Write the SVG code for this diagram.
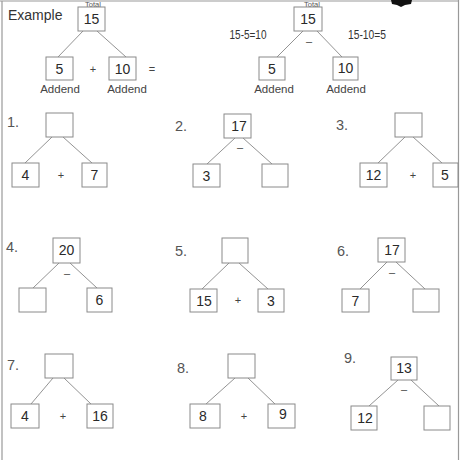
<svg xmlns="http://www.w3.org/2000/svg" width="460" height="460" viewBox="0 0 460 460">
<style>
.bg{fill:#fff}
.box{fill:#fff;stroke:#8a8a8a;stroke-width:1}
.num{font-family:"Liberation Sans",Arial,sans-serif;font-size:14px;fill:#2a2a2a;text-anchor:middle}
.lbl{font-family:"Liberation Sans",Arial,sans-serif;font-size:14.5px;fill:#555;text-anchor:start}
.sm{font-family:"Liberation Sans",Arial,sans-serif;font-size:11.5px;fill:#444;text-anchor:middle}
.tot{font-family:"Liberation Sans",Arial,sans-serif;font-size:7.5px;fill:#555;text-anchor:middle}
.op{font-family:"Liberation Sans",Arial,sans-serif;font-size:11px;fill:#444;text-anchor:middle}
.eq{font-family:"Liberation Sans",Arial,sans-serif;font-size:12.5px;fill:#333;text-anchor:middle}
.con line{stroke:#777;stroke-width:0.8}
.border{stroke:#999;stroke-width:1.2;fill:none}
</style>
<rect class="bg" x="0" y="0" width="460" height="460"/>
<g id="frame">
<line class="border" x1="2" y1="1" x2="2" y2="460"/>
<line class="border" x1="0" y1="1" x2="459" y2="1"/>
<line class="border" x1="458.5" y1="0" x2="458.5" y2="460"/>
<path d="M391 0 L412 0 L411 4 L405 5 L401 7 L397 5 L392 4 Z" fill="#111"/>
</g>

<g id="connectors" class="con">
<line x1="83" y1="31" x2="58" y2="57"/><line x1="97" y1="31" x2="126" y2="57"/>
<line x1="303" y1="31" x2="277" y2="57"/><line x1="317" y1="31" x2="342" y2="57"/>
<line x1="52" y1="137" x2="25" y2="163"/><line x1="63" y1="137" x2="92" y2="163"/>
<line x1="235" y1="138" x2="207" y2="164"/><line x1="243" y1="138" x2="272" y2="164"/>
<line x1="405" y1="137" x2="378" y2="163"/><line x1="413" y1="137" x2="442" y2="163"/>
<line x1="59" y1="263" x2="33" y2="288"/><line x1="70" y1="263" x2="97" y2="288"/>
<line x1="229" y1="263" x2="202" y2="289"/><line x1="239" y1="263" x2="268" y2="289"/>
<line x1="387" y1="262" x2="360" y2="289"/><line x1="396" y1="262" x2="425" y2="289"/>
<line x1="53" y1="378" x2="31" y2="404"/><line x1="64" y1="378" x2="91" y2="404"/>
<line x1="235" y1="378" x2="206" y2="404"/><line x1="248" y1="378" x2="275" y2="404"/>
<line x1="398" y1="380" x2="369" y2="406"/><line x1="411" y1="380" x2="439" y2="406"/>
</g>

<!-- Example left -->
<g id="ex-left">
<text class="lbl" x="8" y="20" style="fill:#333;font-size:14px">Example</text>
<text class="tot" x="93" y="6.5">Total</text>
<g id="ex1-total"><rect class="box" x="78" y="7" width="27" height="24"/><text class="num" x="91.5" y="24">15</text></g>
<g id="ex1-a"><rect class="box" x="46" y="57" width="27" height="23"/><text class="num" x="59.5" y="74">5</text></g>
<text class="op" x="93" y="73">+</text>
<g id="ex1-b"><rect class="box" x="109" y="57" width="27" height="23"/><text class="num" x="122.5" y="74">10</text></g>
<text class="op" x="152" y="73">=</text>
<text class="sm" x="60" y="93">Addend</text>
<text class="sm" x="127" y="93">Addend</text>
</g>

<!-- Example right -->
<g id="ex-right">
<text class="tot" x="312" y="6.5">Total</text>
<text class="eq" x="248" y="39" textLength="37" lengthAdjust="spacingAndGlyphs">15-5=10</text>
<text class="eq" x="367" y="39" textLength="38" lengthAdjust="spacingAndGlyphs">15-10=5</text>
<g id="ex2-total"><rect class="box" x="294" y="7" width="28" height="24"/><text class="num" x="308" y="24">15</text></g>
<text class="op" x="309" y="45">–</text>
<g id="ex2-a"><rect class="box" x="259" y="57" width="26" height="23"/><text class="num" x="272" y="74">5</text></g>
<g id="ex2-b"><rect class="box" x="333" y="57" width="25" height="23"/><text class="num" x="345.5" y="73">10</text></g>
<text class="sm" x="274" y="93">Addend</text>
<text class="sm" x="346" y="93">Addend</text>
</g>

<!-- 1 -->
<g id="p1">
<text class="lbl" x="7" y="127">1.</text>
<g id="p1-top"><rect class="box" x="46" y="113" width="27" height="24"/></g>
<g id="p1-a"><rect class="box" x="12" y="163" width="27" height="24"/><text class="num" x="25.5" y="180">4</text></g>
<text class="op" x="61" y="179">+</text>
<g id="p1-b"><rect class="box" x="82" y="163" width="25" height="24"/><text class="num" x="94.5" y="180">7</text></g>
</g>

<!-- 2 -->
<g id="p2">
<text class="lbl" x="175" y="131">2.</text>
<g id="p2-top"><rect class="box" x="224" y="114" width="27" height="24"/><text class="num" x="239" y="131">17</text></g>
<text class="op" x="240" y="151">–</text>
<g id="p2-a"><rect class="box" x="193" y="164" width="27" height="23"/><text class="num" x="206.5" y="181">3</text></g>
<g id="p2-b"><rect class="box" x="262" y="164" width="26" height="23"/></g>
</g>

<!-- 3 -->
<g id="p3">
<text class="lbl" x="336" y="130">3.</text>
<g id="p3-top"><rect class="box" x="395" y="113" width="27" height="24"/></g>
<g id="p3-a"><rect class="box" x="360" y="163" width="27" height="24"/><text class="num" x="373.5" y="180">12</text></g>
<text class="op" x="413" y="179">+</text>
<g id="p3-b"><rect class="box" x="433" y="163" width="25" height="24"/><text class="num" x="445" y="180">5</text></g>
</g>

<!-- 4 -->
<g id="p4">
<text class="lbl" x="6" y="252">4.</text>
<g id="p4-top"><rect class="box" x="53" y="238" width="27" height="25"/><text class="num" x="66.5" y="255">20</text></g>
<text class="op" x="67" y="277">–</text>
<g id="p4-a"><rect class="box" x="19" y="288" width="27" height="24"/></g>
<g id="p4-b"><rect class="box" x="87" y="288" width="25" height="24"/><text class="num" x="99.5" y="305">6</text></g>
</g>

<!-- 5 -->
<g id="p5">
<text class="lbl" x="175" y="256">5.</text>
<g id="p5-top"><rect class="box" x="222" y="238" width="26" height="25"/></g>
<g id="p5-a"><rect class="box" x="190" y="289" width="27" height="23"/><text class="num" x="204" y="306">15</text></g>
<text class="op" x="238" y="304">+</text>
<g id="p5-b"><rect class="box" x="258" y="289" width="26" height="23"/><text class="num" x="271" y="306">3</text></g>
</g>

<!-- 6 -->
<g id="p6">
<text class="lbl" x="337" y="256">6.</text>
<g id="p6-top"><rect class="box" x="378" y="238" width="27" height="24"/><text class="num" x="392" y="255">17</text></g>
<text class="op" x="392" y="276">–</text>
<g id="p6-a"><rect class="box" x="342" y="289" width="27" height="23"/><text class="num" x="355.5" y="306">7</text></g>
<g id="p6-b"><rect class="box" x="413" y="289" width="26" height="23"/></g>
</g>

<!-- 7 -->
<g id="p7">
<text class="lbl" x="7" y="370">7.</text>
<g id="p7-top"><rect class="box" x="45" y="354" width="28" height="24"/></g>
<g id="p7-a"><rect class="box" x="11" y="404" width="28" height="24"/><text class="num" x="25" y="421">4</text></g>
<text class="op" x="63" y="420">+</text>
<g id="p7-b"><rect class="box" x="87" y="404" width="26" height="24"/><text class="num" x="100" y="421">16</text></g>
</g>

<!-- 8 -->
<g id="p8">
<text class="lbl" x="177" y="373">8.</text>
<g id="p8-top"><rect class="box" x="228" y="354" width="27" height="24"/></g>
<g id="p8-a"><rect class="box" x="190" y="404" width="30" height="24"/><text class="num" x="203" y="421">8</text></g>
<text class="op" x="244" y="420">+</text>
<g id="p8-b"><rect class="box" x="268" y="404" width="27" height="24"/><text class="num" x="283" y="419">9</text></g>
</g>

<!-- 9 -->
<g id="p9">
<text class="lbl" x="344" y="363">9.</text>
<g id="p9-top"><rect class="box" x="391" y="357" width="26" height="23"/><text class="num" x="404" y="373">13</text></g>
<text class="op" x="404" y="393">–</text>
<g id="p9-a"><rect class="box" x="351" y="406" width="26" height="24"/><text class="num" x="365" y="423">12</text></g>
<g id="p9-b"><rect class="box" x="424" y="406" width="26" height="24"/></g>
</g>
</svg>
